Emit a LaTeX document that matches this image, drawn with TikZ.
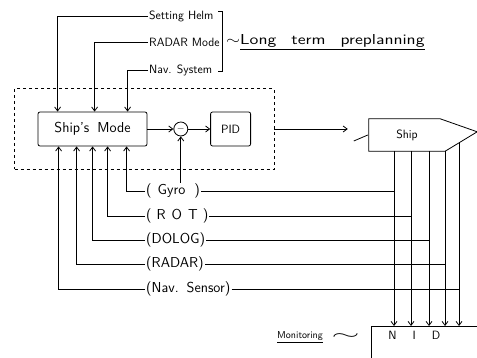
\documentclass[tikz,border=0pt]{standalone}
\usepackage{tikz}
\usetikzlibrary{arrows.meta, positioning, fit}

\begin{document}
\begin{tikzpicture}[
  x=1pt, y=-1pt,
  box/.style={rectangle, draw, rounded corners=2pt, thick, align=center, font=\sffamily\large},
  sig/.style={anchor=west, inner sep=1pt, font=\sffamily\large},
  sensor/.style={sig, font=\sffamily\Large},
  arr/.style={-{Straight Barb[length=4pt,width=6pt]}, thick},
  line/.style={thick}
]
\clip (0,0) rectangle (477,358);
% control loop
\node[box, minimum width=109pt, minimum height=34pt, font=\sffamily\Large] (mode) at (92.5,129) {Ship's\hspace{8pt}Mode};
\node[circle, draw, thick, minimum size=14pt, inner sep=0pt, right=26pt of mode] (cmp) {$-$};
\node[box, minimum width=40pt, minimum height=34pt, right=22pt of cmp] (pid) {PID};
\node[draw, dashed, thick, fit=(mode)(pid), inner sep=23pt] (ctrl) {};
\node[minimum width=76pt, minimum height=32pt, font=\sffamily\large] (ship) at (407,135) {Ship};
\draw[line] (ship.north west) -- ([xshift=-5pt]ship.north east) -- ++(37,13) -- (ship.south east) -- (ship.south west) -- cycle;
\node[draw, thick, anchor=north west, text width=100pt, align=left, inner xsep=17pt, inner ysep=5pt, text depth=40pt, font=\sffamily\large] (nid) at (371,326) {N\hspace{16pt}I\hspace{16pt}D};

% setpoints
\node[sig] (helm) at (148,16) {Setting Helm};
\node[sig] (rmode) at (148,42) {RADAR Mode};
\node[sig] (navsys) at (148,70) {Nav. System};
\node[sig, font=\sffamily\Large] (plan) at (225,42) {\scalebox{1.25}[1]{$\sim$\underline{Long\hspace{12pt}term\hspace{12pt}preplanning}}};
\draw[line] (218,11) -- (222,11) -- (222,71) -- (218,71);

% sensors
\node[sensor] (gyro) at (145,191) {(\hspace{6pt}Gyro\hspace{9pt})};
\node[sensor] (rot) at (145,216) {(\hspace{5pt}R\hspace{6pt}O\hspace{6pt}T\hspace{5pt})};
\node[sensor] (dolog) at (145,240) {(DOLOG)};
\node[sensor] (radar) at (145,264) {(RADAR)};
\node[sensor] (nav) at (145,289) {(Nav.\hspace{8pt}Sensor)};
\node[sig, font=\sffamily] (mon) at (276,337) {\underline{Monitoring}};
\node[right=4pt of mon] (tilde) {\scalebox{3.6}[1.6]{$\sim$}};

\coordinate (b1) at (394,151);
\coordinate (b2) at (411,151);
\coordinate (b3) at (429,151);
\coordinate (b4) at (445,151);
\coordinate (b5) at (459,143);

\draw[arr] (helm.west) -| ([xshift=20pt]mode.north west);
\draw[arr] (rmode.west) -| ([xshift=57pt]mode.north west);
\draw[arr] (navsys.west) -| ([xshift=90pt]mode.north west);
\draw[arr] (mode) -- (cmp);
\draw[arr] (cmp) -- (pid);
\draw[arr, shorten >=21pt] (pid -| ctrl.east) -- (pid -| ship.west);
\draw[line] ([xshift=-1pt]ship.west) -- ++(-14,6);
\draw[arr] (gyro.north -| cmp) -- (cmp);

\draw[arr] (gyro.west) -| ([xshift=89pt]mode.south west);
\draw[arr] (rot.west) -| ([xshift=70pt]mode.south west);
\draw[arr] (dolog.west) -| ([xshift=55pt]mode.south west);
\draw[arr] (radar.west) -| ([xshift=39pt]mode.south west);
\draw[arr] (nav.west) -| ([xshift=21pt]mode.south west);

\draw[line] (gyro.east) -- (gyro.east -| b1);
\draw[line] (rot.east) -- (rot.east -| b2);
\draw[line] (dolog.east) -- (dolog.east -| b3);
\draw[line] (radar.east) -- (radar.east -| b4);
\draw[line] (nav.east) -- (nav.east -| b5);

\draw[arr] (b1) -- (b1 |- nid.north);
\draw[arr] (b2) -- (b2 |- nid.north);
\draw[arr] (b3) -- (b3 |- nid.north);
\draw[arr] (b4) -- (b4 |- nid.north);
\draw[arr] (b5) -- (b5 |- nid.north);
\end{tikzpicture}
\end{document}
